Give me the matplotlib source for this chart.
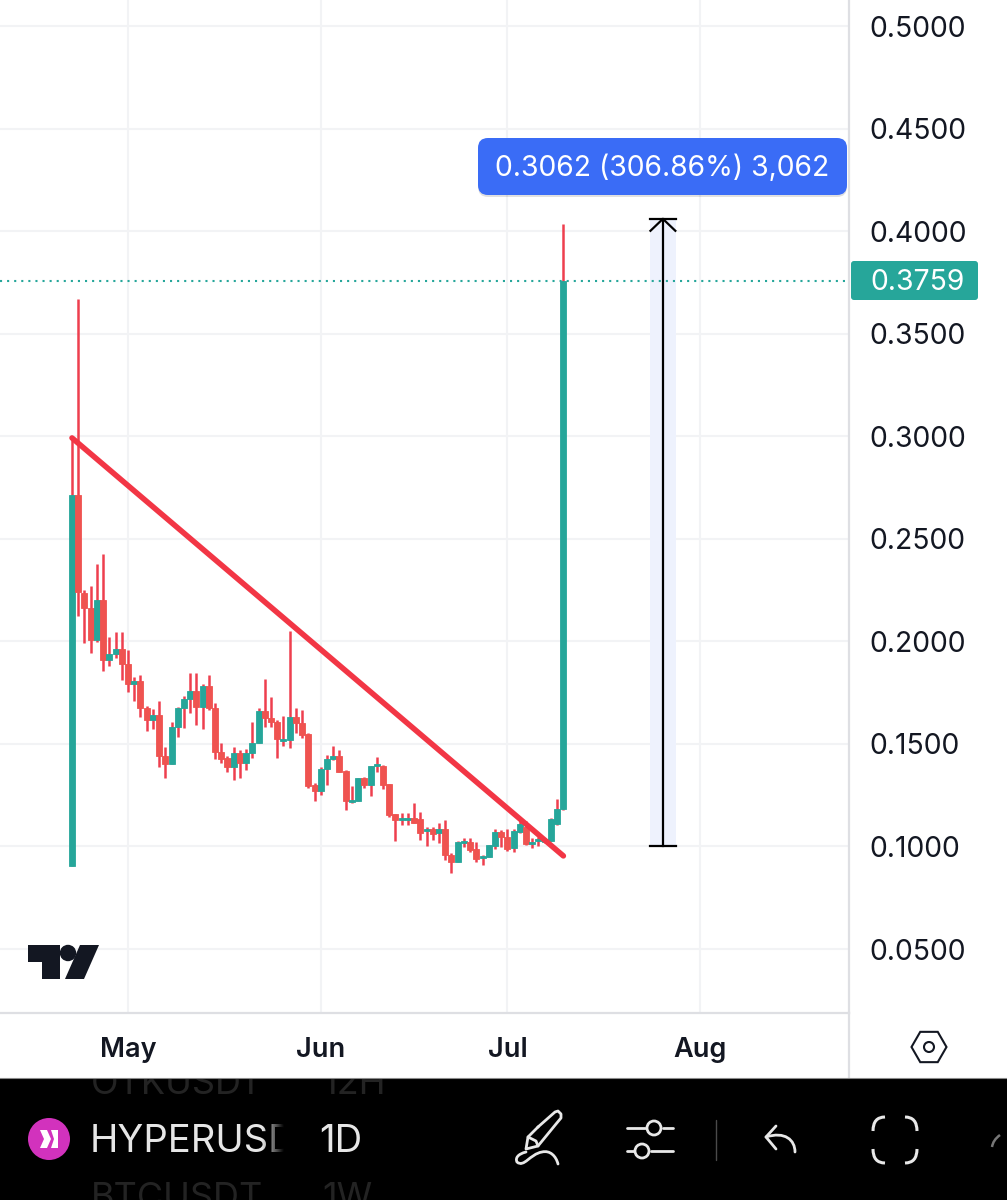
import numpy as np
import pandas as pd
import matplotlib
matplotlib.use("Agg")
import matplotlib.pyplot as plt
import matplotlib.dates as mdates
from matplotlib.patches import FancyBboxPatch, Rectangle, Circle, Polygon, PathPatch, RegularPolygon
from matplotlib.path import Path

plt.rcParams['font.family'] = ['Inter', 'DejaVu Sans']

start_date = "2025-04-22"
opens = [.0904,.2714,.2236,.2163,.2007,.2202,.1909,.1938,.1963,.1890,.1792,.1806,.1675,.1616,.1641,.1440,.1401,.1582,.1675,.1719,
         .1758,.1680,.1782,.1675,.1460,.1431,.1387,.1455,.1406,.1455,.1504,.1660,.1626,.1606,.1514,.1518,.1631,.1601,.1548,.1299,
         .1270,.1377,.1426,.1440,.1367,.1216,.1221,.1333,.1299,.1392,.1392,.1304,.1157,.1128,.1128,.1138,.1133,.1074,.1084,.1065,
         .1084,.0957,.0923,.1016,.1021,.0987,.0943,.0948,.1001,.1069,.1045,.0991,.1069,.1094,.1011,.1026,.1021,.1026,.1108,.1181]
highs = [.2992,.3670,.2251,.2270,.2377,.2426,.2021,.2046,.2046,.1958,.1826,.1836,.1685,.1670,.1709,.1484,.1606,.1680,.1733,.1845,
         .1845,.1792,.1836,.1699,.1504,.1440,.1484,.1470,.1475,.1606,.1675,.1816,.1728,.1616,.1636,.2050,.1675,.1665,.1552,.1308,
         .1387,.1445,.1489,.1470,.1372,.1294,.1333,.1338,.1392,.1436,.1397,.1304,.1157,.1162,.1162,.1211,.1167,.1094,.1094,.1113,
         .1128,.0967,.1026,.1040,.1040,.1021,.0957,.1006,.1084,.1079,.1084,.1084,.1133,.1123,.1040,.1045,.1040,.1138,.1230,.4035]
lows = [.0904,.2124,.1992,.1943,.1997,.1855,.1880,.1919,.1811,.1753,.1709,.1631,.1562,.1572,.1387,.1333,.1401,.1533,.1577,.1650,
        .1592,.1572,.1665,.1426,.1406,.1362,.1323,.1333,.1372,.1431,.1504,.1582,.1582,.1431,.1489,.1479,.1552,.1528,.1284,.1221,
        .1250,.1299,.1421,.1362,.1177,.1211,.1221,.1284,.1245,.1362,.1279,.1143,.1026,.1104,.1104,.1113,.1030,.1001,.1030,.1016,
        .0933,.0870,.0923,.0996,.0972,.0923,.0909,.0948,.0987,.0996,.0977,.0972,.1065,.1006,.0991,.1001,.1016,.1026,.1104,.1177]
closes = [.2714,.2241,.2163,.2007,.2202,.1909,.1938,.1963,.1890,.1792,.1806,.1675,.1616,.1641,.1440,.1401,.1582,.1675,.1719,.1758,
          .1680,.1782,.1675,.1460,.1426,.1387,.1455,.1406,.1455,.1504,.1660,.1626,.1606,.1523,.1523,.1631,.1601,.1543,.1294,.1270,
          .1377,.1426,.1440,.1362,.1221,.1225,.1333,.1299,.1392,.1401,.1299,.1152,.1128,.1138,.1138,.1113,.1065,.1084,.1060,.1084,
          .0957,.0923,.1021,.1026,.0982,.0938,.0952,.1006,.1069,.1045,.0987,.1074,.1108,.1011,.1021,.1035,.1035,.1133,.1181,.3759]
price_ticks = [0.05,0.10,0.15,0.20,0.25,0.30,0.35,0.40,0.45,0.50]
month_ticks = ["2025-05-01","2025-06-01","2025-07-01","2025-08-01"]
month_labels = ["May","Jun","Jul","Aug"]
trend_dates = ["2025-04-22","2025-07-10"]
trend_prices = [0.2992,0.0954]
measure_date = "2025-07-26"
measure_from, measure_to = 0.1000, 0.4060
last_price = 0.3759
measure_label = "0.3062 (306.86%) 3,062"

W, H = 1007, 1200
RED, GREEN, WICK, GRID, AXIS, INK = '#ef5350', '#26a69a', '#ee3f4e', '#f2f3f5', '#dedfe3', '#131722'
TREND = '#f23645'

fig = plt.figure(figsize=(W/100, H/100), dpi=100, facecolor='white')
ax = fig.add_axes([0, 1-1013/H, 849/W, 1013/H])
dates = pd.date_range(start_date, periods=len(opens), freq='D')
x = mdates.date2num(dates)
x0 = x[0]
ax.set_xlim(x0-72/6.22, x0+(849-72)/6.22)
ax.set_ylim(0.0188, 0.51273)
o, h, l, c = map(np.array, (opens, highs, lows, closes))
up = c >= o
colors = [GREEN if u else RED for u in up]
ax.grid(True, color=GRID, lw=1.5, zorder=0)
ax.set_axisbelow(True)
ax.vlines(x, l, h, color=WICK, lw=1.8, zorder=2)
ax.bar(x, np.abs(c-o), bottom=np.minimum(o, c), width=0.97,
       color=colors, edgecolor=colors, linewidth=0.6, zorder=3)

md = mdates.date2num(pd.to_datetime(measure_date))
ax.add_patch(Rectangle((md-2.1, measure_from), 4.2, measure_to-measure_from, color='#eef2fd', lw=0, zorder=1))
ax.plot([md, md], [measure_from, measure_to], color='black', lw=1.6, zorder=4)
ax.plot([md-2.1, md+2.1], [measure_from]*2, color='black', lw=1.6, zorder=4)
ax.plot([md-2.1, md+2.1], [measure_to]*2, color='black', lw=1.6, zorder=4)
ax.plot([md-2.0, md, md+2.0], [measure_to-0.0058, measure_to, measure_to-0.0058], color='black', lw=1.6, zorder=4)
ax.axhline(last_price, color=GREEN, lw=1.5, ls=(0, (1, 2.4)), zorder=2)
ax.plot(mdates.date2num(pd.to_datetime(trend_dates)), trend_prices, color=TREND, lw=4.0,
        solid_capstyle='round', zorder=5)

ax.set_yticks(price_ticks)
ax.set_yticklabels([f"{p:.4f}" for p in price_ticks], fontsize=20.4, color=INK)
ax.yaxis.tick_right()
ax.tick_params(axis='y', length=0, pad=15)
ax.set_xticks(mdates.date2num(pd.to_datetime(month_ticks)))
ax.set_xticklabels(month_labels, fontsize=19.5, fontweight='semibold', color=INK)
ax.tick_params(axis='x', length=0, pad=17.5)
for s in ('top', 'left'):
    ax.spines[s].set_visible(False)
for s in ('right', 'bottom'):
    ax.spines[s].set_color(AXIS)
    ax.spines[s].set_linewidth(1.6)

ov = fig.add_axes([0, 0, 1, 1], zorder=10)
ov.set_xlim(0, W); ov.set_ylim(H, 0); ov.axis('off'); ov.patch.set_alpha(0)

def line(xs, ys, color='#e8e8e8', lw=2.0, z=12):
    ov.plot(xs, ys, color=color, lw=lw, solid_capstyle='round', solid_joinstyle='round', zorder=z)

def curve(pts, ec='#e8e8e8', lw=2.0):
    # pts: start point followed by cubic Bezier triples
    ov.add_patch(PathPatch(Path(pts, [1] + [4]*(len(pts)-1)), fc='none', ec=ec, lw=lw, capstyle='round', zorder=12))

# measure label
ov.add_patch(FancyBboxPatch((478, 140), 369, 57, boxstyle="round,pad=0,rounding_size=10", fc='#000000', alpha=0.12, lw=0))
ov.add_patch(FancyBboxPatch((478, 138), 369, 57, boxstyle="round,pad=0,rounding_size=10", fc='#3a6cf6', lw=0))
ov.text(662.5, 168, measure_label, color='white', fontsize=20.4, ha='center', va='center')
# last price label
ov.add_patch(FancyBboxPatch((851, 261), 127, 39, boxstyle="round,pad=0,rounding_size=3", fc=GREEN, lw=0))
ov.text(917.5, 283, f"{last_price:.4f}", color='white', fontsize=20.4, ha='center', va='center')

# TradingView mark
ov.add_patch(Polygon([(28,945),(60,945),(60,979),(42,979),(42,962),(28,962)], fc='#131722', lw=0))
ov.add_patch(Circle((68,953), 8.2, fc='#131722', lw=0))
ov.add_patch(Polygon([(80,945),(99,945),(84,979),(65,979)], fc='#131722', lw=0))

# settings hexagon
ov.add_patch(RegularPolygon((929,1047), 6, radius=17.5, orientation=np.pi/2, fc='none', ec=INK, lw=1.5))
ov.add_patch(Circle((929,1047), 5, fc='none', ec=INK, lw=1.5))
ov.plot([849,849],[1013,1078], color=AXIS, lw=1.6, zorder=2)

# bottom bar
ov.add_patch(Rectangle((0,1078), W, 122, fc='black', ec='none', zorder=5))
ov.plot([0,W],[1078,1078], color='#8a8a8a', lw=0.8, zorder=6)
ghost = '#232323'
for t, tx, ty in [("OTKUSD1",91,1084),("12H",322,1084),("BTCUSDT",91,1199),("1W",322,1199)]:
    tt = ov.text(tx, ty, t, color=ghost, fontsize=26, ha='left', va='center', zorder=6, clip_on=True)
    tt.set_clip_path(Rectangle((0,1079), W, 121, transform=ov.transData))
ov.add_patch(Circle((49,1139), 21, fc='#d232bd', lw=0, zorder=7))
ov.add_patch(Polygon([(40,1130),(47,1130),(51,1139),(47,1148),(40,1148),(44,1139)], fc='white', lw=0, zorder=8))
ov.add_patch(Polygon([(51,1130),(58,1130),(58,1148),(51,1148),(54,1139)], fc='white', lw=0, zorder=8))
ov.text(90, 1142, "HYPERUSDT", color='#e6e6e6', fontsize=27.5, ha='left', va='center', zorder=8)
grad = np.zeros((1, 60, 4)); grad[0, :, 3] = np.linspace(0, 1, 60)
ov.imshow(grad, extent=(262, 284, 1180, 1100), aspect='auto', zorder=9)
ov.add_patch(Rectangle((284,1100), 60, 80, fc='black', lw=0, zorder=9))
ov.set_xlim(0, W); ov.set_ylim(H, 0)
ov.text(319, 1142, "1D", color='#e6e6e6', fontsize=27.5, ha='left', va='center', zorder=10)

# pencil
line([538,555,558,561,561,556,538,526,528,538],[1127,1112,1111,1114,1118,1124,1146,1149,1137,1127])
line([528,536,538],[1137,1141,1146])
curve([(526,1152),(518,1154),(515,1158),(517,1162),(524,1168),(530,1154),(542,1152),(550,1150),(556,1156),(558,1164)])
# sliders
line([627,645],[1128,1128]); line([663,673],[1128,1128])
ov.add_patch(Circle((654,1128),7,fc='none',ec='#e8e8e8',lw=2,zorder=12))
line([627,634],[1151,1151]); line([651,673],[1151,1151])
ov.add_patch(Circle((642,1151),7,fc='none',ec='#e8e8e8',lw=2,zorder=12))
line([716,716],[1120,1160],color='#4a4a4a',lw=1)
# undo
line([776,766,776],[1126,1137,1149])
curve([(766,1137),(785,1131),(795,1140),(795,1152)])
# fullscreen corners
for cx, cy, dx, dy in [(873,1117,1,1),(917,1117,-1,1),(873,1163,1,-1),(917,1163,-1,-1)]:
    ov.add_patch(PathPatch(Path([(cx,cy+dy*14),(cx,cy),(cx+dx*12,cy)],[1,3,3]),fc='none',ec='#e8e8e8',lw=2.2,zorder=12))
# next tool, cut off by the screen edge
ov.add_patch(PathPatch(Path([(992,1147),(993,1140),(1000,1135)],[1,3,3]),fc='none',ec='#777777',lw=1.8,zorder=12))

fig.savefig("out.png", dpi=100, facecolor='white')
